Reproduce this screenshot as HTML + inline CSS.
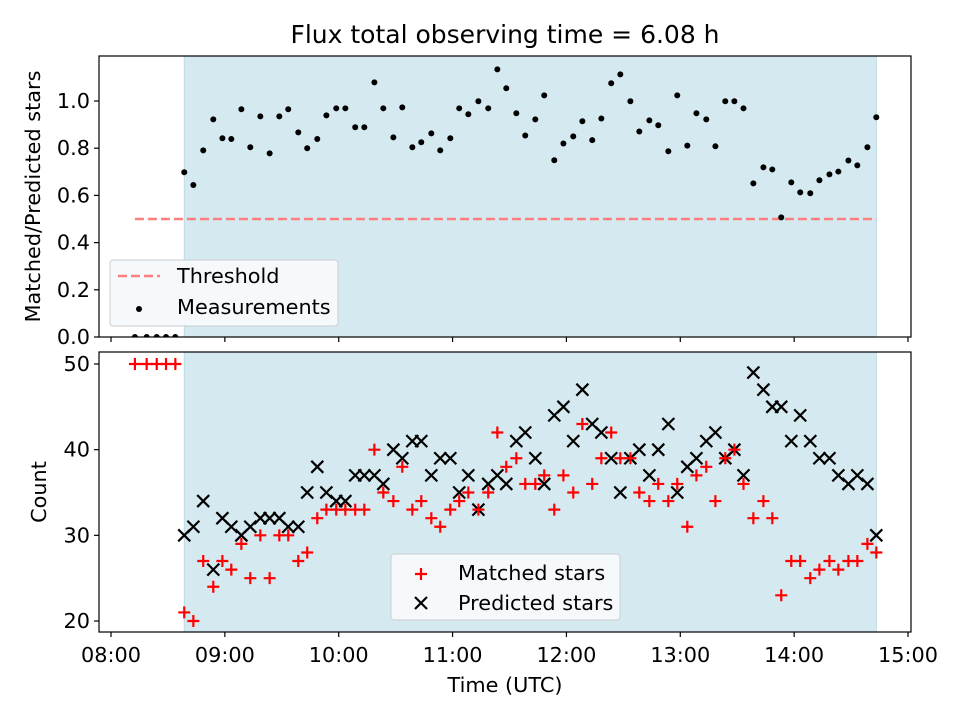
<!DOCTYPE html>
<html><head><meta charset="utf-8"><style>
html,body{margin:0;padding:0;background:#fff;overflow:hidden;width:960px;height:720px;}
svg{display:block;font-family:"DejaVu Sans","Liberation Sans",sans-serif;}
</style></head><body>
<svg id="chart" width="960" height="720" viewBox="0 0 960 720" xmlns="http://www.w3.org/2000/svg">
<text x="505" y="43" style="font-size:25px" text-anchor="middle">Flux total observing time = 6.08 h</text>
<g id="top"></g><g id="bot"></g>
</svg>
<script>
// minutes since 08:00
const times=[12.6,18.8,24.1,29.0,33.9,38.6,43.4,48.6,53.9,58.7,63.4,68.7,73.4,78.7,83.6,88.7,93.4,98.7,103.4,108.7,113.5,118.7,123.5,128.7,133.5,138.8,143.5,148.8,153.5,158.8,163.5,168.8,173.5,178.8,183.5,188.3,193.6,198.8,203.6,208.3,213.6,218.3,223.6,228.3,233.6,238.4,243.6,248.4,253.6,258.4,263.6,268.4,273.7,278.4,283.7,288.4,293.7,298.4,303.7,308.5,313.7,318.5,323.7,328.5,333.3,338.5,343.8,348.5,353.2,358.5,363.2,368.5,373.3,378.6,383.3,388.6,393.3,398.6,403.3];
const ratio=[0,0,0,0,0,0.698,0.644,0.791,0.922,0.842,0.839,0.965,0.804,0.935,0.778,0.935,0.965,0.867,0.80,0.839,0.939,0.969,0.969,0.889,0.889,1.079,0.969,0.846,0.973,0.804,0.825,0.863,0.791,0.842,0.969,0.944,0.999,0.969,1.134,1.054,0.948,0.854,0.922,1.024,0.749,0.82,0.85,0.914,0.834,0.926,1.075,1.113,0.999,0.871,0.918,0.897,0.787,1.024,0.811,0.948,0.922,0.808,0.999,0.999,0.969,0.651,0.719,0.710,0.507,0.655,0.613,0.609,0.664,0.689,0.701,0.748,0.727,0.804,0.931];
const matched=[50,50,50,50,50,21,20,27,24,27,26,29,25,30,25,30,30,27,28,32,33,33,33,33,33,40,35,34,38,33,34,32,31,33,34,35,33,35,42,38,39,36,36,37,33,37,35,43,36,39,42,39,39,35,34,36,34,36,31,37,38,34,39,40,36,32,34,32,23,27,27,25,26,27,26,27,27,29,28];
const predicted=[0,0,0,0,0,30,31,34,26,32,31,30,31,32,32,32,31,31,35,38,35,34,34,37,37,37,36,40,39,41,41,37,39,39,35,37,33,36,37,36,41,42,39,36,44,45,41,47,43,42,39,35,39,40,37,40,43,35,38,39,41,42,39,40,37,49,47,45,45,41,44,41,39,39,37,36,37,36,30];
const threshold=[0.5];
const shadeRange=[38.6,403.3];
const xTickLabels=["08:00","09:00","10:00","11:00","12:00","13:00","14:00","15:00"];
const topTicks=[0,0.2,0.4,0.6,0.8,1.0];
const botTicks=[20,30,40,50];

const NS="http://www.w3.org/2000/svg";
const L=99,R=911,FS='font-size:20.8px';
const X=m=>111+m*(908-111)/420;
const yT=v=>337-v*236;
const yB=v=>364+(50-v)*(621-364)/30;
function mk(p,tag,a,txt){const e=document.createElementNS(NS,tag);for(const k in a)e.setAttribute(k,a[k]);if(txt!==undefined)e.textContent=txt;p.appendChild(e);return e;}
const svg=document.getElementById('chart');
const defs=mk(svg,'defs',{});
const c1=mk(defs,'clipPath',{id:'ct'});mk(c1,'rect',{x:L,y:56,width:R-L,height:281});
const c2=mk(defs,'clipPath',{id:'cb'});mk(c2,'rect',{x:L,y:352,width:R-L,height:280});

function axes(g,top,bottom,yf,ticks,fmt,ylab,ylx,showXLabels){
  const sh=mk(g,'rect',{x:X(shadeRange[0]),y:top,width:X(shadeRange[1])-X(shadeRange[0]),height:bottom-top,fill:'#d5eaf0',stroke:'#bcdbe6','stroke-width':1});
  
  ticks.forEach(v=>{const y=yf(v);mk(g,'line',{x1:L-5,x2:L,y1:y,y2:y,stroke:'#000','stroke-width':1.2});
    const t=mk(g,'text',{x:L-9,y:y+7,style:FS,'text-anchor':'end'},fmt(v));
    });
  xTickLabels.forEach((s,i)=>{const x=X(i*60);mk(g,'line',{x1:x,x2:x,y1:bottom,y2:bottom+5,stroke:'#000','stroke-width':1.2});
    if(showXLabels){const t=mk(g,'text',{x:x,y:bottom+30,style:FS,'text-anchor':'middle'},s);
    }});
  const yl=mk(g,'text',{transform:`translate(${ylx},${(top+bottom)/2}) rotate(-90)`,style:FS,'text-anchor':'middle'},ylab);
  
}
const gt=document.getElementById('top');
axes(gt,56,337,yT,topTicks,v=>v.toFixed(1),'Matched/Predicted stars',40,false);
const th=mk(gt,'line',{x1:X(times[0]),x2:X(shadeRange[1]),y1:yT(threshold[0]),y2:yT(threshold[0]),stroke:'#ff7f7f','stroke-width':2.5,'stroke-dasharray':'9,4'});

const pt=mk(gt,'g',{'clip-path':'url(#ct)'});
ratio.forEach((v,i)=>{const c=mk(pt,'circle',{cx:X(times[i]),cy:yT(v),r:3,fill:'#000'});
});
mk(gt,'rect',{x:L,y:56,width:R-L,height:281,fill:'none',stroke:'#000','stroke-width':1.2});
const lg=mk(gt,'g',{});
mk(lg,'rect',{x:110,y:260,width:228,height:66,rx:3,fill:'#f6f9fb',stroke:'#ccc'});
mk(lg,'line',{x1:118,x2:160,y1:276,y2:276,stroke:'#ff7f7f','stroke-width':2.5,'stroke-dasharray':'9,4'});
mk(lg,'text',{x:177,y:283,style:FS},'Threshold');
mk(lg,'circle',{cx:139,cy:309,r:3,fill:'#000'});
mk(lg,'text',{x:177,y:314,style:FS},'Measurements');

const gb=document.getElementById('bot');
axes(gb,352,632,yB,botTicks,v=>String(v),'Count',46,true);
const pb=mk(gb,'g',{'clip-path':'url(#cb)'});
predicted.forEach((v,i)=>{const x=X(times[i]),y=yB(v),s=6;
const p=mk(pb,'path',{d:`M${x-s} ${y-s}L${x+s} ${y+s}M${x-s} ${y+s}L${x+s} ${y-s}`,stroke:'#000','stroke-width':2.2});
});
matched.forEach((v,i)=>{const x=X(times[i]),y=yB(v),s=6;
const p=mk(pb,'path',{d:`M${x-s} ${y}L${x+s} ${y}M${x} ${y-s}L${x} ${y+s}`,stroke:'#ff0000','stroke-width':2.2});
});
mk(gb,'rect',{x:L,y:352,width:R-L,height:280,fill:'none',stroke:'#000','stroke-width':1.2});
const xl=mk(gb,'text',{x:505,y:692,style:FS,'text-anchor':'middle'},'Time (UTC)');

const lb=mk(gb,'g',{});
mk(lb,'rect',{x:391,y:554,width:229,height:66,rx:3,fill:'#f6f9fb',stroke:'#ccc'});
mk(lb,'path',{d:'M415 574L427 574M421 568L421 580',stroke:'#ff0000','stroke-width':2.2});
mk(lb,'text',{x:458,y:580,style:FS},'Matched stars');
mk(lb,'path',{d:'M415 597L427 609M415 609L427 597',stroke:'#000','stroke-width':2.2});
mk(lb,'text',{x:458,y:610,style:FS},'Predicted stars');
</script>
</body></html>
